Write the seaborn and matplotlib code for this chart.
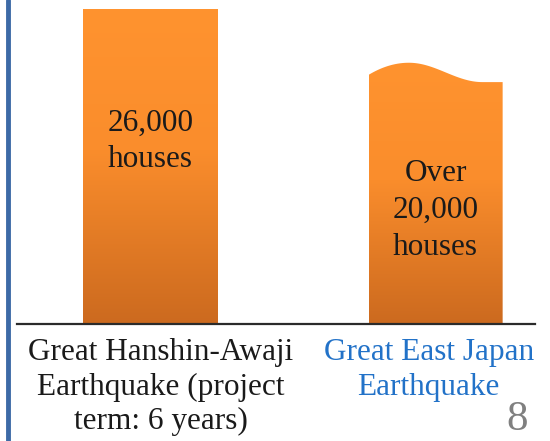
import numpy as np
import pandas as pd
import matplotlib.pyplot as plt
import seaborn as sns
import matplotlib.transforms as mtransforms
from matplotlib.colors import LinearSegmentedColormap
from matplotlib.patches import Polygon
from matplotlib.lines import Line2D

# Data
events = ["Great Hanshin-Awaji\nEarthquake (project\nterm: 6 years)",
          "Great East Japan\nEarthquake"]
houses = [26000, 20000]
bar_text = ["26,000\nhouses", "Over\n20,000\nhouses"]
label_colors = ["#1a1a1a", "#2272C8"]

df = pd.DataFrame({"event": events, "houses": houses})

sns.set_theme(style="white")
plt.rcParams["font.family"] = ["Liberation Serif", "DejaVu Serif"]

fig = plt.figure(figsize=(5.5, 4.41), dpi=100)
ax = fig.add_axes([0.031, 0.265, 0.942, 0.735])
sns.barplot(data=df, x="event", y="houses", ax=ax, width=0.47,
            color="#F7902E", saturation=1)

# orange gradient fill, lighter at top
cmap = LinearSegmentedColormap.from_list(
    "orange", [(0, "#FF932F"), (0.45, "#FA8D2C"), (1, "#CC6A1F")])
grad = np.linspace(0, 1, 256).reshape(-1, 1)

for i, p in enumerate(ax.patches[:len(houses)]):
    x0, w, h = p.get_x(), p.get_width(), p.get_height()
    p.set_facecolor("none")
    p.set_edgecolor("none")
    if i == 1:
        # wavy top for the "over" bar
        t = np.linspace(0, 1, 80)
        off = np.where(t < 0.3,
                       0.08 - 0.05 * ((0.3 - t) / 0.3) ** 2,
                       0.04 * (1 + np.cos(np.pi * np.minimum((t - 0.3) / 0.55, 1))))
        top = h * (1 + off)
        pts = [(x0, 0)] + list(zip(x0 + t * w, top)) + [(x0 + w, 0)]
        clip = Polygon(pts, closed=True, facecolor="none", edgecolor="none")
        ax.add_patch(clip)
        ymax = top.max()
    else:
        clip = p
        ymax = h
    im = ax.imshow(grad, extent=[x0, x0 + w, 0, ymax], aspect="auto",
                   cmap=cmap, origin="upper", zorder=2)
    im.set_clip_path(clip)
    frac = 0.58 if i == 0 else 0.47
    ax.text(x0 + w / 2, h * frac, bar_text[i], ha="center", va="center",
            fontsize=22.5, color="#1a1a1a", linespacing=1.35, zorder=3)

ax.set_xlim(-0.468, 1.349)
ax.set_ylim(0, 26785)
ax.set_xlabel("")
ax.set_ylabel("")
ax.set_yticks([])
ax.set_xticks([0, 1])
ax.set_xticklabels(events, fontsize=22.5, linespacing=1.25)
ax.tick_params(axis="x", length=0, pad=10)
shifts = [0.10, -0.07]
for lbl, c, dx in zip(ax.get_xticklabels(), label_colors, shifts):
    lbl.set_color(c)
    lbl.set_transform(lbl.get_transform() +
                      mtransforms.ScaledTranslation(dx, 0, fig.dpi_scale_trans))

for s in ["top", "left", "right"]:
    ax.spines[s].set_visible(False)
ax.spines["bottom"].set_color("#2b2b2b")
ax.spines["bottom"].set_linewidth(1.6)

# slide decoration
fig.add_artist(Line2D([0.0145, 0.0145], [0, 1], color="#3D6AA6", lw=3.5,
                      transform=fig.transFigure))
fig.text(517 / 550, 1 - 420 / 441, "8", fontsize=31, color="#808080",
         ha="center", va="center")

fig.savefig("out.png", dpi=100)
